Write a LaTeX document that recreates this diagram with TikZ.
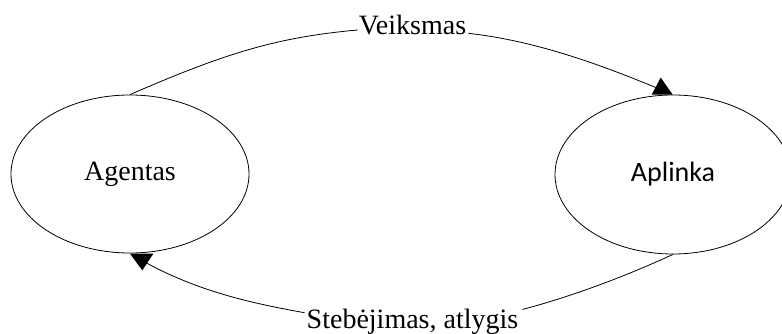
\documentclass[tikz,border=0pt]{standalone}
\usepackage{fontspec}
\setmainfont{Liberation Serif}
\newfontfamily\calibrifont{Carlito}
\usetikzlibrary{shapes.geometric,calc}
\begin{document}
\begin{tikzpicture}[x=1pt,y=-1pt,
  every node/.style={font=\fontsize{28}{32}\selectfont},
  state/.style={ellipse,draw,line width=0.8pt,inner sep=0pt},
  conn/.style={line width=0.8pt},
  lbl/.style={anchor=base,inner sep=0pt},
  tip/.style={fill=black}]
\useasboundingbox (0,0) rectangle (782,334);
\clip (0,0) rectangle (782,334);
\node[state,minimum width=238pt,minimum height=158pt] (agent) at (130,174) {Agentas};
\node[state,minimum width=236pt,minimum height=159pt,font=\calibrifont\fontsize{28}{32}\selectfont] (aplink) at (673,174.5) {Aplinka};
\node[lbl] (veik) at (412.5,35) {Veiksmas};
\node[lbl] (steb) at (412.5,328.3) {Stebėjimas, atlygis};
% connector ends
\coordinate (v1) at ($(veik.base west)+(-1,-5)$);
\coordinate (v2) at ($(veik.base east)+(2,-1.7)$);
\coordinate (s1) at ($(steb.base west)+(-2,-15.6)$);
\coordinate (s2) at ($(steb.base east)+(4,-18.8)$);
\coordinate (t1) at ($(aplink.north)+(-17,-7)$);
\coordinate (t2) at ($(agent.south)+(16.7,9.7)$);
% top connector: Agentas -> Aplinka
\draw[conn] (agent.north) .. controls (225,53.25) and (277,37.2) .. (v1);
\draw[conn] (v2) .. controls (532.7,40.6) and (594,62) .. (t1);
\fill[tip] ($(aplink.north)+(-21.3,0)$) -- ++(21,0) -- ++(-12,-17) -- cycle;
% bottom connector: Aplinka -> Agentas
\draw[conn] (aplink.south) .. controls (625,276.5) and (573,296) .. (s2);
\draw[conn] (s1) .. controls (251.5,303.3) and (198.7,291.3) .. (t2);
\fill[tip] ($(agent.south)+(0,0.3)$) -- ++(23.3,0) -- ++(-11,16.7) -- cycle;
\end{tikzpicture}
\end{document}
